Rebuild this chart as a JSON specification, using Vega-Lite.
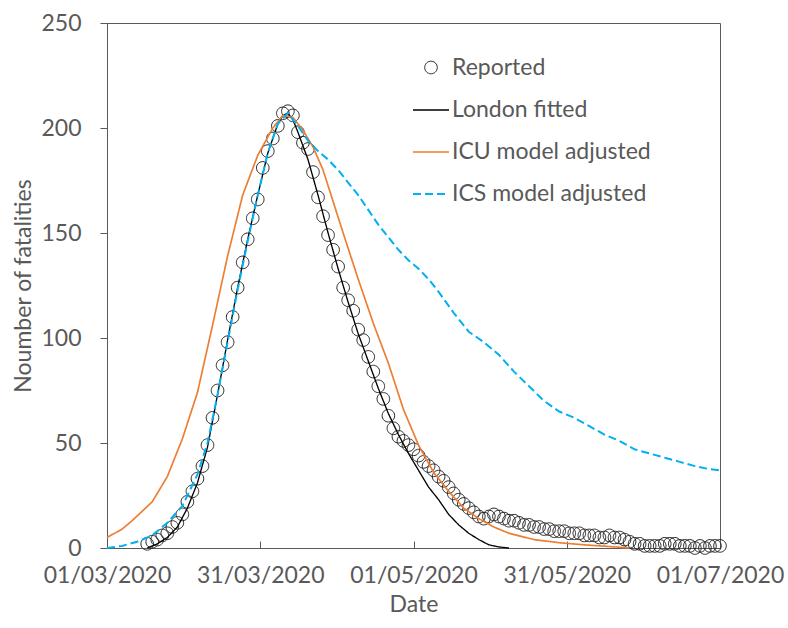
{
  "$schema": "https://vega.github.io/schema/vega-lite/v6.json",
  "width": 613,
  "height": 525,
  "autosize": {"type": "none"},
  "padding": {"left": 107, "top": 23, "right": 68, "bottom": 80},
  "background": "white",
  "config": {
    "font": "Lato",
    "view": {"stroke": "#595959", "strokeWidth": 1},
    "axis": {
      "labelFont": "Lato", "labelFontSize": 23, "labelColor": "#595959",
      "titleFont": "Lato", "titleFontSize": 23, "titleColor": "#595959", "titleFontWeight": "normal",
      "domainColor": "#595959", "tickColor": "#595959", "grid": false
    },
    "legend": {
      "orient": "none", "legendX": 305, "legendY": 26, "padding": 0,
      "symbolSize": 1296, "labelFont": "Lato", "labelFontSize": 23,
      "labelColor": "#595959", "labelOffset": 2, "rowPadding": 11, "labelLimit": 400
    }
  },
  "data": {"values": [
    {"series": "Reported", "date": "2020-03-09", "value": 2},
    {"series": "Reported", "date": "2020-03-10", "value": 3},
    {"series": "Reported", "date": "2020-03-11", "value": 4},
    {"series": "Reported", "date": "2020-03-12", "value": 6},
    {"series": "Reported", "date": "2020-03-13", "value": 7},
    {"series": "Reported", "date": "2020-03-14", "value": 10},
    {"series": "Reported", "date": "2020-03-15", "value": 12},
    {"series": "Reported", "date": "2020-03-16", "value": 16},
    {"series": "Reported", "date": "2020-03-17", "value": 22},
    {"series": "Reported", "date": "2020-03-18", "value": 27},
    {"series": "Reported", "date": "2020-03-19", "value": 33},
    {"series": "Reported", "date": "2020-03-20", "value": 39},
    {"series": "Reported", "date": "2020-03-21", "value": 49},
    {"series": "Reported", "date": "2020-03-22", "value": 62},
    {"series": "Reported", "date": "2020-03-23", "value": 75},
    {"series": "Reported", "date": "2020-03-24", "value": 87},
    {"series": "Reported", "date": "2020-03-25", "value": 98},
    {"series": "Reported", "date": "2020-03-26", "value": 110},
    {"series": "Reported", "date": "2020-03-27", "value": 124},
    {"series": "Reported", "date": "2020-03-28", "value": 136},
    {"series": "Reported", "date": "2020-03-29", "value": 147},
    {"series": "Reported", "date": "2020-03-30", "value": 157},
    {"series": "Reported", "date": "2020-03-31", "value": 166},
    {"series": "Reported", "date": "2020-04-01", "value": 181},
    {"series": "Reported", "date": "2020-04-02", "value": 189},
    {"series": "Reported", "date": "2020-04-03", "value": 195},
    {"series": "Reported", "date": "2020-04-04", "value": 201},
    {"series": "Reported", "date": "2020-04-05", "value": 207},
    {"series": "Reported", "date": "2020-04-06", "value": 208},
    {"series": "Reported", "date": "2020-04-07", "value": 206},
    {"series": "Reported", "date": "2020-04-08", "value": 198},
    {"series": "Reported", "date": "2020-04-09", "value": 193},
    {"series": "Reported", "date": "2020-04-10", "value": 190},
    {"series": "Reported", "date": "2020-04-11", "value": 179},
    {"series": "Reported", "date": "2020-04-12", "value": 167},
    {"series": "Reported", "date": "2020-04-13", "value": 158},
    {"series": "Reported", "date": "2020-04-14", "value": 149},
    {"series": "Reported", "date": "2020-04-15", "value": 142},
    {"series": "Reported", "date": "2020-04-16", "value": 134},
    {"series": "Reported", "date": "2020-04-17", "value": 124},
    {"series": "Reported", "date": "2020-04-18", "value": 118},
    {"series": "Reported", "date": "2020-04-19", "value": 113},
    {"series": "Reported", "date": "2020-04-20", "value": 104},
    {"series": "Reported", "date": "2020-04-21", "value": 99},
    {"series": "Reported", "date": "2020-04-22", "value": 91},
    {"series": "Reported", "date": "2020-04-23", "value": 84},
    {"series": "Reported", "date": "2020-04-24", "value": 77},
    {"series": "Reported", "date": "2020-04-25", "value": 71},
    {"series": "Reported", "date": "2020-04-26", "value": 63},
    {"series": "Reported", "date": "2020-04-27", "value": 57},
    {"series": "Reported", "date": "2020-04-28", "value": 53},
    {"series": "Reported", "date": "2020-04-29", "value": 51},
    {"series": "Reported", "date": "2020-04-30", "value": 49},
    {"series": "Reported", "date": "2020-05-01", "value": 47},
    {"series": "Reported", "date": "2020-05-02", "value": 44},
    {"series": "Reported", "date": "2020-05-03", "value": 41},
    {"series": "Reported", "date": "2020-05-04", "value": 39},
    {"series": "Reported", "date": "2020-05-05", "value": 37},
    {"series": "Reported", "date": "2020-05-06", "value": 34},
    {"series": "Reported", "date": "2020-05-07", "value": 32},
    {"series": "Reported", "date": "2020-05-08", "value": 29},
    {"series": "Reported", "date": "2020-05-09", "value": 26},
    {"series": "Reported", "date": "2020-05-10", "value": 23},
    {"series": "Reported", "date": "2020-05-11", "value": 21},
    {"series": "Reported", "date": "2020-05-12", "value": 19},
    {"series": "Reported", "date": "2020-05-13", "value": 17},
    {"series": "Reported", "date": "2020-05-14", "value": 15},
    {"series": "Reported", "date": "2020-05-15", "value": 14},
    {"series": "Reported", "date": "2020-05-16", "value": 15},
    {"series": "Reported", "date": "2020-05-17", "value": 16},
    {"series": "Reported", "date": "2020-05-18", "value": 15},
    {"series": "Reported", "date": "2020-05-19", "value": 14},
    {"series": "Reported", "date": "2020-05-20", "value": 13},
    {"series": "Reported", "date": "2020-05-21", "value": 13},
    {"series": "Reported", "date": "2020-05-22", "value": 12},
    {"series": "Reported", "date": "2020-05-23", "value": 11},
    {"series": "Reported", "date": "2020-05-24", "value": 11},
    {"series": "Reported", "date": "2020-05-25", "value": 10},
    {"series": "Reported", "date": "2020-05-26", "value": 10},
    {"series": "Reported", "date": "2020-05-27", "value": 9},
    {"series": "Reported", "date": "2020-05-28", "value": 9},
    {"series": "Reported", "date": "2020-05-29", "value": 8},
    {"series": "Reported", "date": "2020-05-30", "value": 8},
    {"series": "Reported", "date": "2020-05-31", "value": 8},
    {"series": "Reported", "date": "2020-06-01", "value": 7},
    {"series": "Reported", "date": "2020-06-02", "value": 7},
    {"series": "Reported", "date": "2020-06-03", "value": 7},
    {"series": "Reported", "date": "2020-06-04", "value": 6},
    {"series": "Reported", "date": "2020-06-05", "value": 6},
    {"series": "Reported", "date": "2020-06-06", "value": 6},
    {"series": "Reported", "date": "2020-06-07", "value": 5},
    {"series": "Reported", "date": "2020-06-08", "value": 5},
    {"series": "Reported", "date": "2020-06-09", "value": 6},
    {"series": "Reported", "date": "2020-06-10", "value": 5},
    {"series": "Reported", "date": "2020-06-11", "value": 5},
    {"series": "Reported", "date": "2020-06-12", "value": 4},
    {"series": "Reported", "date": "2020-06-13", "value": 3},
    {"series": "Reported", "date": "2020-06-14", "value": 2},
    {"series": "Reported", "date": "2020-06-15", "value": 2},
    {"series": "Reported", "date": "2020-06-16", "value": 1},
    {"series": "Reported", "date": "2020-06-17", "value": 1},
    {"series": "Reported", "date": "2020-06-18", "value": 1},
    {"series": "Reported", "date": "2020-06-19", "value": 1},
    {"series": "Reported", "date": "2020-06-20", "value": 2},
    {"series": "Reported", "date": "2020-06-21", "value": 2},
    {"series": "Reported", "date": "2020-06-22", "value": 2},
    {"series": "Reported", "date": "2020-06-23", "value": 1},
    {"series": "Reported", "date": "2020-06-24", "value": 1},
    {"series": "Reported", "date": "2020-06-25", "value": 1},
    {"series": "Reported", "date": "2020-06-26", "value": 0},
    {"series": "Reported", "date": "2020-06-27", "value": 1},
    {"series": "Reported", "date": "2020-06-28", "value": 0},
    {"series": "Reported", "date": "2020-06-29", "value": 1},
    {"series": "Reported", "date": "2020-06-30", "value": 1},
    {"series": "Reported", "date": "2020-07-01", "value": 1},

    {"series": "London fitted", "date": "2020-03-09", "value": 0},
    {"series": "London fitted", "date": "2020-03-11", "value": 2},
    {"series": "London fitted", "date": "2020-03-13", "value": 5},
    {"series": "London fitted", "date": "2020-03-15", "value": 10},
    {"series": "London fitted", "date": "2020-03-17", "value": 19},
    {"series": "London fitted", "date": "2020-03-19", "value": 31},
    {"series": "London fitted", "date": "2020-03-21", "value": 48},
    {"series": "London fitted", "date": "2020-03-23", "value": 73},
    {"series": "London fitted", "date": "2020-03-25", "value": 99},
    {"series": "London fitted", "date": "2020-03-27", "value": 124},
    {"series": "London fitted", "date": "2020-03-29", "value": 147},
    {"series": "London fitted", "date": "2020-03-31", "value": 168},
    {"series": "London fitted", "date": "2020-04-02", "value": 188},
    {"series": "London fitted", "date": "2020-04-04", "value": 202},
    {"series": "London fitted", "date": "2020-04-05", "value": 206},
    {"series": "London fitted", "date": "2020-04-06", "value": 207},
    {"series": "London fitted", "date": "2020-04-07", "value": 204},
    {"series": "London fitted", "date": "2020-04-08", "value": 198},
    {"series": "London fitted", "date": "2020-04-10", "value": 185},
    {"series": "London fitted", "date": "2020-04-12", "value": 168},
    {"series": "London fitted", "date": "2020-04-14", "value": 150},
    {"series": "London fitted", "date": "2020-04-16", "value": 133},
    {"series": "London fitted", "date": "2020-04-18", "value": 117},
    {"series": "London fitted", "date": "2020-04-20", "value": 102},
    {"series": "London fitted", "date": "2020-04-22", "value": 89},
    {"series": "London fitted", "date": "2020-04-24", "value": 76},
    {"series": "London fitted", "date": "2020-04-26", "value": 64},
    {"series": "London fitted", "date": "2020-04-28", "value": 54},
    {"series": "London fitted", "date": "2020-04-30", "value": 45},
    {"series": "London fitted", "date": "2020-05-02", "value": 37},
    {"series": "London fitted", "date": "2020-05-04", "value": 29},
    {"series": "London fitted", "date": "2020-05-06", "value": 23},
    {"series": "London fitted", "date": "2020-05-08", "value": 16},
    {"series": "London fitted", "date": "2020-05-10", "value": 11},
    {"series": "London fitted", "date": "2020-05-12", "value": 7},
    {"series": "London fitted", "date": "2020-05-14", "value": 4},
    {"series": "London fitted", "date": "2020-05-16", "value": 1.5},
    {"series": "London fitted", "date": "2020-05-18", "value": 0.5},
    {"series": "London fitted", "date": "2020-05-20", "value": 0},

    {"series": "ICU model adjusted", "date": "2020-03-01", "value": 5},
    {"series": "ICU model adjusted", "date": "2020-03-04", "value": 9},
    {"series": "ICU model adjusted", "date": "2020-03-06", "value": 13},
    {"series": "ICU model adjusted", "date": "2020-03-10", "value": 22},
    {"series": "ICU model adjusted", "date": "2020-03-13", "value": 34},
    {"series": "ICU model adjusted", "date": "2020-03-16", "value": 52},
    {"series": "ICU model adjusted", "date": "2020-03-19", "value": 74},
    {"series": "ICU model adjusted", "date": "2020-03-22", "value": 106},
    {"series": "ICU model adjusted", "date": "2020-03-25", "value": 139},
    {"series": "ICU model adjusted", "date": "2020-03-28", "value": 168},
    {"series": "ICU model adjusted", "date": "2020-03-31", "value": 187},
    {"series": "ICU model adjusted", "date": "2020-04-03", "value": 200},
    {"series": "ICU model adjusted", "date": "2020-04-05", "value": 206},
    {"series": "ICU model adjusted", "date": "2020-04-07", "value": 205},
    {"series": "ICU model adjusted", "date": "2020-04-09", "value": 199},
    {"series": "ICU model adjusted", "date": "2020-04-11", "value": 191},
    {"series": "ICU model adjusted", "date": "2020-04-13", "value": 180},
    {"series": "ICU model adjusted", "date": "2020-04-15", "value": 165},
    {"series": "ICU model adjusted", "date": "2020-04-17", "value": 150},
    {"series": "ICU model adjusted", "date": "2020-04-20", "value": 128},
    {"series": "ICU model adjusted", "date": "2020-04-23", "value": 107},
    {"series": "ICU model adjusted", "date": "2020-04-26", "value": 88},
    {"series": "ICU model adjusted", "date": "2020-04-29", "value": 66},
    {"series": "ICU model adjusted", "date": "2020-05-02", "value": 49},
    {"series": "ICU model adjusted", "date": "2020-05-05", "value": 36},
    {"series": "ICU model adjusted", "date": "2020-05-08", "value": 27},
    {"series": "ICU model adjusted", "date": "2020-05-11", "value": 19},
    {"series": "ICU model adjusted", "date": "2020-05-14", "value": 14},
    {"series": "ICU model adjusted", "date": "2020-05-17", "value": 10},
    {"series": "ICU model adjusted", "date": "2020-05-20", "value": 7},
    {"series": "ICU model adjusted", "date": "2020-05-25", "value": 4},
    {"series": "ICU model adjusted", "date": "2020-05-30", "value": 2.5},
    {"series": "ICU model adjusted", "date": "2020-06-04", "value": 1.5},
    {"series": "ICU model adjusted", "date": "2020-06-09", "value": 0.7},
    {"series": "ICU model adjusted", "date": "2020-06-13", "value": 0},

    {"series": "ICS model adjusted", "date": "2020-03-01", "value": 0},
    {"series": "ICS model adjusted", "date": "2020-03-04", "value": 1},
    {"series": "ICS model adjusted", "date": "2020-03-07", "value": 3},
    {"series": "ICS model adjusted", "date": "2020-03-10", "value": 6},
    {"series": "ICS model adjusted", "date": "2020-03-13", "value": 12},
    {"series": "ICS model adjusted", "date": "2020-03-16", "value": 20},
    {"series": "ICS model adjusted", "date": "2020-03-19", "value": 35},
    {"series": "ICS model adjusted", "date": "2020-03-21", "value": 50},
    {"series": "ICS model adjusted", "date": "2020-03-23", "value": 73},
    {"series": "ICS model adjusted", "date": "2020-03-25", "value": 98},
    {"series": "ICS model adjusted", "date": "2020-03-27", "value": 123},
    {"series": "ICS model adjusted", "date": "2020-03-29", "value": 146},
    {"series": "ICS model adjusted", "date": "2020-03-31", "value": 168},
    {"series": "ICS model adjusted", "date": "2020-04-02", "value": 188},
    {"series": "ICS model adjusted", "date": "2020-04-04", "value": 202},
    {"series": "ICS model adjusted", "date": "2020-04-06", "value": 207},
    {"series": "ICS model adjusted", "date": "2020-04-08", "value": 201},
    {"series": "ICS model adjusted", "date": "2020-04-10", "value": 194},
    {"series": "ICS model adjusted", "date": "2020-04-12", "value": 189},
    {"series": "ICS model adjusted", "date": "2020-04-14", "value": 185},
    {"series": "ICS model adjusted", "date": "2020-04-16", "value": 180},
    {"series": "ICS model adjusted", "date": "2020-04-18", "value": 174},
    {"series": "ICS model adjusted", "date": "2020-04-20", "value": 168},
    {"series": "ICS model adjusted", "date": "2020-04-22", "value": 161},
    {"series": "ICS model adjusted", "date": "2020-04-24", "value": 154},
    {"series": "ICS model adjusted", "date": "2020-04-26", "value": 148},
    {"series": "ICS model adjusted", "date": "2020-04-28", "value": 142},
    {"series": "ICS model adjusted", "date": "2020-04-30", "value": 137},
    {"series": "ICS model adjusted", "date": "2020-05-02", "value": 133},
    {"series": "ICS model adjusted", "date": "2020-05-04", "value": 128},
    {"series": "ICS model adjusted", "date": "2020-05-06", "value": 122},
    {"series": "ICS model adjusted", "date": "2020-05-09", "value": 112},
    {"series": "ICS model adjusted", "date": "2020-05-12", "value": 103},
    {"series": "ICS model adjusted", "date": "2020-05-15", "value": 98},
    {"series": "ICS model adjusted", "date": "2020-05-18", "value": 92},
    {"series": "ICS model adjusted", "date": "2020-05-21", "value": 84},
    {"series": "ICS model adjusted", "date": "2020-05-24", "value": 77},
    {"series": "ICS model adjusted", "date": "2020-05-27", "value": 70},
    {"series": "ICS model adjusted", "date": "2020-05-30", "value": 65},
    {"series": "ICS model adjusted", "date": "2020-06-02", "value": 62},
    {"series": "ICS model adjusted", "date": "2020-06-05", "value": 58},
    {"series": "ICS model adjusted", "date": "2020-06-08", "value": 54},
    {"series": "ICS model adjusted", "date": "2020-06-11", "value": 51},
    {"series": "ICS model adjusted", "date": "2020-06-14", "value": 47},
    {"series": "ICS model adjusted", "date": "2020-06-17", "value": 45},
    {"series": "ICS model adjusted", "date": "2020-06-20", "value": 43},
    {"series": "ICS model adjusted", "date": "2020-06-23", "value": 41},
    {"series": "ICS model adjusted", "date": "2020-06-26", "value": 39},
    {"series": "ICS model adjusted", "date": "2020-06-29", "value": 37.5},
    {"series": "ICS model adjusted", "date": "2020-07-01", "value": 37}
  ]},
  "encoding": {
    "x": {
      "field": "date", "type": "temporal",
      "scale": {"type": "utc", "domain": [
        {"year": 2020, "month": 3, "date": 1, "utc": true},
        {"year": 2020, "month": 7, "date": 1, "utc": true}
      ]},
      "axis": {
        "title": "Date",
        "labelExpr": "utcFormat(datum.value, '%d/%m/%Y')",
        "values": [
          {"year": 2020, "month": 3, "date": 1, "utc": true},
          {"year": 2020, "month": 3, "date": 31, "hours": 12, "utc": true},
          {"year": 2020, "month": 5, "date": 1, "utc": true},
          {"year": 2020, "month": 5, "date": 31, "hours": 12, "utc": true},
          {"year": 2020, "month": 7, "date": 1, "utc": true}
        ],
        "tickSize": -7, "labelPadding": 23, "titlePadding": 6, "labelOverlap": false, "labelFlush": false
      }
    },
    "y": {
      "field": "value", "type": "quantitative",
      "scale": {"domain": [0, 250]},
      "axis": {"title": "Noumber of fatalities", "values": [0, 50, 100, 150, 200, 250], "tickSize": 7, "labelPadding": 19, "titlePadding": 5}
    },
    "color": {
      "field": "series", "type": "nominal",
      "scale": {"domain": ["Reported", "London fitted", "ICU model adjusted", "ICS model adjusted"], "range": ["#222222", "#000000", "#ED7D31", "#00B0F0"]},
      "legend": {"title": null}
    },
    "strokeDash": {
      "field": "series", "type": "nominal",
      "scale": {"domain": ["Reported", "London fitted", "ICU model adjusted", "ICS model adjusted"], "range": [[1, 0], [1, 0], [1, 0], [8, 4]]},
      "legend": {"title": null}
    },
    "strokeWidth": {
      "field": "series", "type": "nominal",
      "scale": {"domain": ["Reported", "London fitted", "ICU model adjusted", "ICS model adjusted"], "range": [1, 2, 2, 2.6]},
      "legend": {"title": null}
    }
  },
  "layer": [
    {
      "transform": [{"filter": "datum.series === 'Reported'"}],
      "mark": {"type": "point", "filled": false, "size": 1296, "opacity": 1},
      "encoding": {
        "shape": {
          "field": "series", "type": "nominal",
          "scale": {"domain": ["Reported", "London fitted", "ICU model adjusted", "ICS model adjusted"], "range": ["M-0.35,0A0.35,0.35,0,1,1,0.35,0A0.35,0.35,0,1,1,-0.35,0Z", "stroke", "stroke", "stroke"]},
          "legend": {"title": null}
        }
      }
    },
    {
      "transform": [{"filter": "datum.series !== 'Reported'"}],
      "mark": {"type": "line"}
    }
  ]
}
